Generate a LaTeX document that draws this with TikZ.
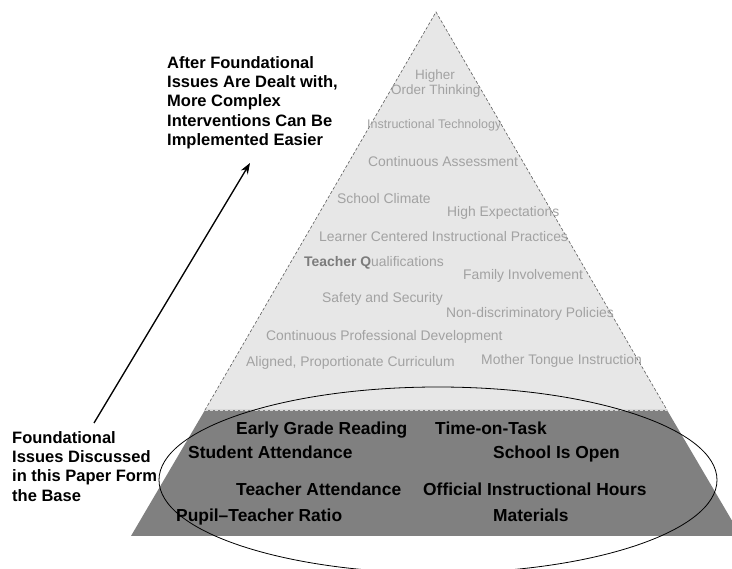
\documentclass[tikz,border=0pt]{standalone}
\usepackage{fontspec}
\setmainfont{Liberation Sans}
\usetikzlibrary{arrows.meta}

\definecolor{lightlayer}{HTML}{E7E7E7}
\definecolor{darklayer}{HTML}{808080}
\definecolor{layergray}{HTML}{A2A2A2}
\definecolor{teachq}{HTML}{7C7C7C}
\definecolor{edgegray}{HTML}{5C5C5C}

\tikzstyle{layertext} = [anchor=west,
inner sep=0pt,
text height=10pt,
text depth=0pt,
text=layergray,
font=\fontsize{13.9}{15}\selectfont]
\tikzstyle{basetext} = [anchor=west,
inner sep=0pt,
text height=12.5pt,
text depth=0pt,
text=black,
font=\bfseries\fontsize{17.4}{20}\selectfont]
\tikzstyle{note} = [anchor=north west,
inner sep=0pt,
align=left,
font=\bfseries\fontsize{16.5}{19.3}\selectfont]
\tikzstyle{arrow} = [line width=1.3pt,->,>={Stealth[length=11pt,width=8pt]}]

\begin{document}
\begin{tikzpicture}[x=1pt,y=-1pt]
\useasboundingbox (0,0) rectangle (732,569);
\clip (0,0) rectangle (732,569);
\fill[white] (0,0) rectangle (732,569);

% pyramid layers
\fill[lightlayer] (436,12) -- (205,410) -- (667,410) -- cycle;
\fill[darklayer] (205,410) -- (667,410) -- (741,536) -- (131,536) -- cycle;
\draw[edgegray, line width=0.6pt, dash pattern=on 3pt off 2pt] (205,410) -- (436,12) -- (667,410);
\draw[white!85!black, line width=0.6pt, dash pattern=on 3pt off 2pt] (205,410) -- (667,410);

% upper layer items
\node (higher) [layertext, anchor=center, font=\fontsize{13.5}{15}\selectfont] at (435,75) {Higher};
\node (ordthink) [layertext, font=\fontsize{13.5}{15}\selectfont] at (391,90) {Order Thinking};
\node (insttech) [layertext, font=\fontsize{12.5}{15}\selectfont] at (367,124) {Instructional Technology};
\node (contassess) [layertext] at (368,162) {Continuous Assessment};
\node (climate) [layertext] at (337,199) {School Climate};
\node (highexp) [layertext] at (447,212) {High Expectations};
\node (learner) [layertext] at (319,237) {Learner Centered Instructional Practices};
\node (teachqual) [layertext] at (304,262) {{\color{teachq}\bfseries Teacher Q}ualifications};
\node (family) [layertext] at (463,275) {Family Involvement};
\node (safety) [layertext] at (322,298) {Safety and Security};
\node (nondisc) [layertext] at (446,313) {Non-discriminatory Policies};
\node (profdev) [layertext] at (266,336) {Continuous Professional Development};
\node (curric) [layertext] at (246,362) {Aligned, Proportionate Curriculum};
\node (mothert) [layertext] at (481,360) {Mother Tongue Instruction};

% base layer items
\node (reading) [basetext] at (236,428) {Early Grade Reading};
\node (timetask) [basetext] at (435,428) {Time-on-Task};
\node (studatt) [basetext] at (188,452) {Student Attendance};
\node (open) [basetext] at (493,452) {School Is Open};
\node (teachatt) [basetext] at (236,489) {Teacher Attendance};
\node (hours) [basetext] at (423,489) {Official Instructional Hours};
\node (ratio) [basetext] at (176,515) {Pupil--Teacher Ratio};
\node (materials) [basetext] at (493,515) {Materials};

\draw[line width=0.8pt] (438,480) ellipse [x radius=279pt, y radius=93pt];

% notes
\node (after) [note] at (167,56) {After Foundational\\Issues Are Dealt with,\\More Complex\\Interventions Can Be\\Implemented Easier};
\node (found) [note] at (12,431) {Foundational\\Issues Discussed\\in this Paper Form\\the Base};

\coordinate (arrowfoot) at (94,423);
\coordinate (arrowtip) at (250,163);
\draw [arrow] (arrowfoot) -- (arrowtip);

\end{tikzpicture}
\end{document}
